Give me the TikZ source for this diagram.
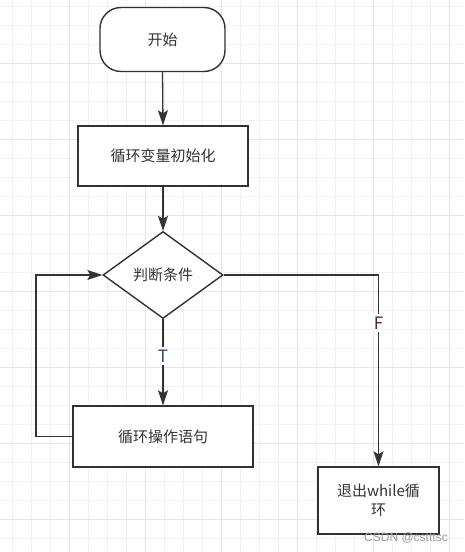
\documentclass[tikz,border=0pt]{standalone}
\usepackage{fontspec}
\newfontfamily\cjk{Noto Sans CJK SC}
\newfontfamily\wmfont{Liberation Sans}
\usetikzlibrary{shapes.geometric,arrows.meta}
\definecolor{linec}{HTML}{333333}
\definecolor{boxc}{HTML}{2F3338}
\definecolor{txtc}{HTML}{333333}
\definecolor{gridminor}{HTML}{F2F2F2}
\definecolor{gridmajor}{HTML}{E6E6E6}
\definecolor{tcol}{HTML}{2B4A78}
\definecolor{fcol}{HTML}{5A2424}
\tikzset{
  box/.style={draw=boxc, line width=1.4pt, fill=white, rectangle, inner sep=0pt,
    font=\cjk\fontsize{15}{19}\selectfont, text=txtc, align=center},
  term/.style={box, rounded corners=21pt},
  decide/.style={box, diamond},
  conn/.style={draw=linec, line width=1.3pt, -{Stealth[length=15pt,width=10pt,inset=3pt]}},
  lbl/.style={fill=white, inner xsep=1pt, inner ysep=3pt, font=\cjk\fontsize{17}{19}\selectfont},
}
\begin{document}
\begin{tikzpicture}[x=1pt,y=-1pt]
\useasboundingbox (0,0) rectangle (464,552);
\fill[white] (0,0) rectangle (464,552);
% grid
\foreach \gx in {12,31,...,464} \draw[gridminor, line width=1pt] (\gx,0) -- (\gx,552);
\foreach \gy in {6,25,...,552} \draw[gridminor, line width=1pt] (0,\gy) -- (464,\gy);
\foreach \gx in {69,145,221,297,373,449} \draw[gridmajor, line width=1pt] (\gx,0) -- (\gx,552);
\foreach \gy in {63,139,215,291,367,443,519} \draw[gridmajor, line width=1pt] (0,\gy) -- (464,\gy);

% nodes
\node[term, minimum width=125pt, minimum height=64pt] (start) at (162.5,39.5) {开始};
\node[box, minimum width=170pt, minimum height=60pt] (init) at (163,156) {循环变量初始化};
\node[decide, minimum width=120pt, minimum height=87pt] (cond) at (163,275) {判断条件};
\node[box, minimum width=180pt, minimum height=61pt] (body) at (163,436.5) {循环操作语句};
\node[box, minimum width=121pt, minimum height=67pt] (exit) at (378.5,500.5) {退出while循\\环};
\coordinate (loopx) at (36,0);

% connectors
\draw[conn] (start.south) -- (init.north);
\draw[conn] (init.south) -- (cond.north);
\draw[conn] (cond.south) -- node[lbl, text=tcol, pos=0.43] (tlabel) {T} (body.north);
\draw[conn] (cond.east) -| node[lbl, text=fcol, pos=0.625] (flabel) {F} (exit.north);
\draw[conn] (body.west) -- (body.west -| loopx) |- (cond.west);

% watermark
\node[text=black!40, font=\wmfont\fontsize{12}{14}\selectfont, inner sep=0pt] (wm) at (406,538) {CSDN @cstttsc};
\end{tikzpicture}
\end{document}
